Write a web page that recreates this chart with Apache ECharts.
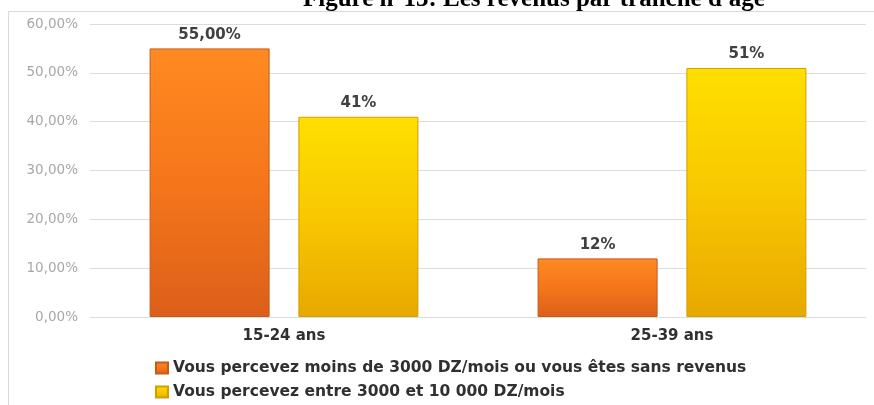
<!DOCTYPE html>
<html>
<head>
<meta charset="utf-8">
<script src="https://cdn.jsdelivr.net/npm/echarts@6/dist/echarts.min.js"></script>
<style>html,body{margin:0;padding:0;background:#fff}#c{width:874px;height:405px}</style>
</head>
<body>
<div id="c"></div>
<script>
const categories = ['15-24 ans', '25-39 ans'];
const seriesNames = ['Vous percevez moins de 3000 DZ/mois ou vous êtes sans revenus', 'Vous percevez entre 3000 et 10 000 DZ/mois'];
const lowIncome = [55, 12];
const lowIncomeLabels = ['55,00%', '12%'];
const midIncome = [41, 51];
const midIncomeLabels = ['41%', '51%'];
const yTicks = [0, 10, 20, 30, 40, 50, 60];

const chart = echarts.init(document.getElementById('c'));
const orange = new echarts.graphic.LinearGradient(0, 0, 0, 1, [
  {offset: 0, color: '#ff8a22'}, {offset: 0.5, color: '#f5761a'}, {offset: 1, color: '#dc5f1a'}]);
const yellow = new echarts.graphic.LinearGradient(0, 0, 0, 1, [
  {offset: 0, color: '#ffdf00'}, {offset: 0.5, color: '#f8c800'}, {offset: 1, color: '#e8a800'}]);
const labelStyle = {show: true, position: 'top', distance: 6, fontFamily: 'DejaVu Sans', fontWeight: 'bold', fontSize: 15, color: '#404040'};
chart.setOption({
  animation: false,
  title: {text: "Figure n°13: Les revenus par tranche d'âge", left: 298, top: -18,
    textStyle: {fontFamily: 'Liberation Serif', fontWeight: 'bold', fontSize: 25, color: '#000'}},
  graphic: [{type: 'rect', z: -1, shape: {x: 8.5, y: 11.5, width: 880, height: 420}, style: {fill: 'none', stroke: '#d9d9d9', lineWidth: 1}}],
  grid: {left: 90, right: 8, top: 24, bottom: 88},
  legend: {orient: 'vertical', left: 155, top: 359, padding: 0, height: 46, itemWidth: 12, itemHeight: 11, itemGap: 6, icon: 'rect',
    textStyle: {fontFamily: 'DejaVu Sans', fontWeight: 'bold', fontSize: 15.5, lineHeight: 18, color: '#303030'},
    data: seriesNames},
  xAxis: {type: 'category', data: categories,
    axisLine: {show: false}, axisTick: {show: false},
    axisLabel: {margin: 12, fontFamily: 'DejaVu Sans', fontWeight: 'bold', fontSize: 15, color: '#303030'}},
  yAxis: {type: 'value', min: yTicks[0], max: yTicks[yTicks.length - 1], interval: 10,
    axisLine: {show: false}, axisTick: {show: false},
    splitLine: {lineStyle: {color: '#dcdcdc', width: 1}},
    axisLabel: {margin: 12, fontFamily: 'DejaVu Sans', fontSize: 13.5, color: '#a8a8a8',
      formatter: v => v.toFixed(2).replace('.', ',') + '%'}},
  series: [
    {name: seriesNames[0], type: 'bar', data: lowIncome, barWidth: 120, barGap: '24%',
      itemStyle: {color: orange, borderColor: '#c65a18', borderWidth: 1},
      label: Object.assign({}, labelStyle, {formatter: p => lowIncomeLabels[p.dataIndex]})},
    {name: seriesNames[1], type: 'bar', data: midIncome, barWidth: 120,
      itemStyle: {color: yellow, borderColor: '#d0a000', borderWidth: 1},
      label: Object.assign({}, labelStyle, {formatter: p => midIncomeLabels[p.dataIndex]})}
  ]
});
</script>
</body>
</html>
